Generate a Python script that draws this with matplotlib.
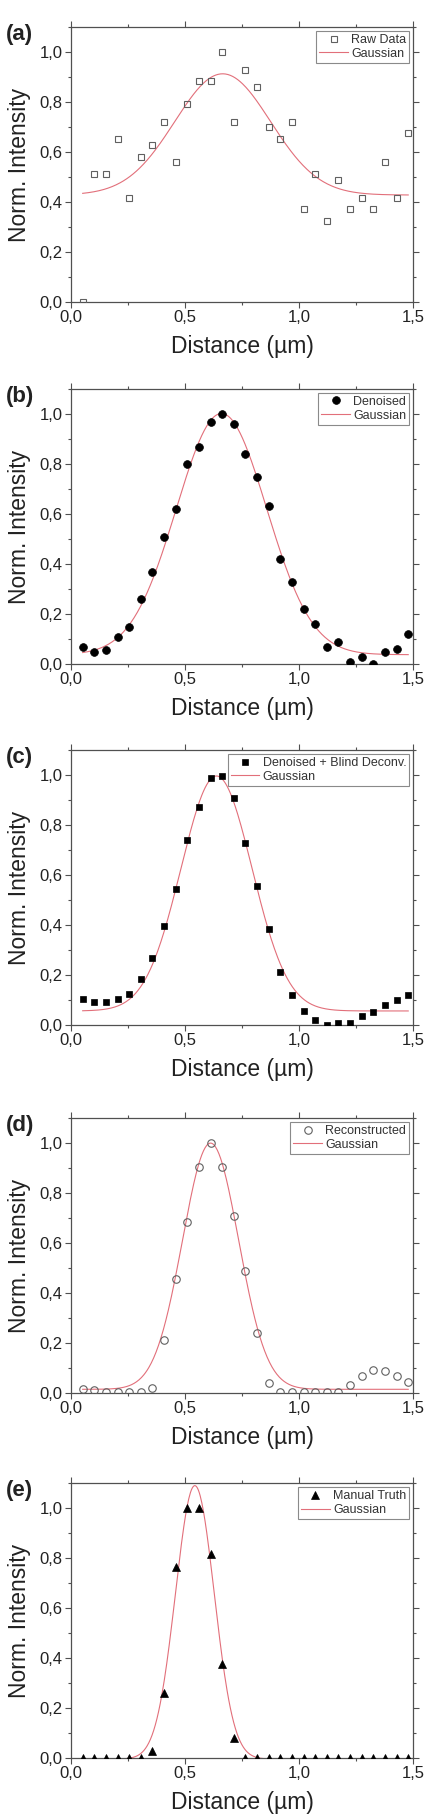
import numpy as np
import matplotlib
matplotlib.use('Agg')
import matplotlib.pyplot as plt
import matplotlib.ticker as mtick

plt.rcParams['font.family'] = ['Liberation Sans', 'DejaVu Sans']

# Posições dos pixels (µm)
distance = [0.051 * k for k in range(1, 30)]

raw_data = [0.0, 0.513, 0.513, 0.652, 0.418, 0.582, 0.628, 0.722, 0.559, 0.791,
            0.884, 0.884, 1.0, 0.722, 0.930, 0.861, 0.699, 0.652, 0.722, 0.373,
            0.513, 0.326, 0.489, 0.373, 0.418, 0.373, 0.559, 0.418, 0.675]
denoised = [0.067, 0.047, 0.057, 0.108, 0.148, 0.258, 0.369, 0.508, 0.618, 0.798,
            0.869, 0.969, 1.0, 0.959, 0.838, 0.749, 0.630, 0.418, 0.329, 0.219,
            0.159, 0.068, 0.088, 0.008, 0.029, 0.0, 0.048, 0.059, 0.119]
deconv = [0.103, 0.090, 0.090, 0.103, 0.125, 0.182, 0.269, 0.396, 0.542, 0.739,
          0.871, 0.990, 0.997, 0.906, 0.727, 0.556, 0.383, 0.212, 0.119, 0.055,
          0.019, 0.0, 0.009, 0.009, 0.035, 0.051, 0.079, 0.098, 0.119]
reconstructed = [0.017, 0.011, 0.004, 0.004, 0.004, 0.004, 0.020, 0.214, 0.455, 0.683,
                 0.905, 1.0, 0.905, 0.707, 0.490, 0.242, 0.040, 0.004, 0.004, 0.004,
                 0.004, 0.004, 0.004, 0.033, 0.067, 0.094, 0.090, 0.067, 0.044]
manual_truth = [0.0, 0.0, 0.0, 0.0, 0.0, 0.0, 0.029, 0.261, 0.764, 0.999,
                1.0, 0.815, 0.375, 0.080, 0.0, 0.0, 0.0, 0.0, 0.0, 0.0,
                0.0, 0.0, 0.0, 0.0, 0.0, 0.0, 0.0, 0.0, 0.0]

# Parâmetros do ajuste gaussiano: base, amplitude, centro, sigma
fit_base = [0.428, 0.037, 0.056, 0.015, -0.004]
fit_amp = [0.485, 0.965, 0.940, 0.985, 1.094]
fit_center = [0.665, 0.660, 0.638, 0.612, 0.543]
fit_sigma = [0.210, 0.198, 0.156, 0.123, 0.085]

panel_labels = ['(a)', '(b)', '(c)', '(d)', '(e)']
legend_names = ['Raw Data', 'Denoised', 'Denoised + Blind Deconv.', 'Reconstructed', 'Manual Truth']
series = [raw_data, denoised, deconv, reconstructed, manual_truth]

FRAME = '#505050'
TEXT = '#222222'
RED = '#e26f7a'

marker_styles = [
    dict(marker='s', ms=5.0, mfc='none', mec='#606060', mew=0.8),
    dict(marker='o', ms=5.6, mfc='black', mec='black', mew=0.5),
    dict(marker='s', ms=4.8, mfc='black', mec='black', mew=0.5),
    dict(marker='o', ms=5.4, mfc='none', mec='#606060', mew=0.8),
    dict(marker='^', ms=6.0, mfc='black', mec='black', mew=0.5),
]

# Posições dos eixos (fração da figura)
axes_bottoms = [0.8337, 0.6344, 0.4356, 0.2329, 0.0319]


def comma_fmt(val, pos):
    return '{:.1f}'.format(val).replace('.', ',')


fig = plt.figure(figsize=(4.28, 18.16), dpi=100)

for i in range(5):
    ax = fig.add_axes([0.166, axes_bottoms[i], 0.799, 0.1514])
    x_fit = np.linspace(distance[0], distance[-1], 400)
    y_fit = fit_base[i] + fit_amp[i] * np.exp(-(x_fit - fit_center[i]) ** 2 / (2 * fit_sigma[i] ** 2))

    ax.plot(distance, series[i], ls='none', label=legend_names[i], zorder=3, **marker_styles[i])
    ax.plot(x_fit, y_fit, color=RED, lw=0.8, label='Gaussian', zorder=2)

    ax.set_xlim(0, 1.5)
    ax.set_ylim(0, 1.1)
    ax.xaxis.set_major_locator(mtick.MultipleLocator(0.5))
    ax.xaxis.set_minor_locator(mtick.MultipleLocator(0.25))
    ax.yaxis.set_major_locator(mtick.FixedLocator([0, 0.2, 0.4, 0.6, 0.8, 1.0]))
    ax.yaxis.set_minor_locator(mtick.MultipleLocator(0.1))
    ax.xaxis.set_major_formatter(mtick.FuncFormatter(comma_fmt))
    ax.yaxis.set_major_formatter(mtick.FuncFormatter(comma_fmt))

    for spine in ax.spines.values():
        spine.set_color(FRAME)
        spine.set_linewidth(0.9)
    ax.tick_params(which='both', direction='out', top=True, right=True,
                   color=FRAME, width=0.8, labelcolor=TEXT, labelsize=12)
    ax.tick_params(which='major', length=4, pad=2)
    ax.tick_params(which='minor', length=2)

    ax.set_xlabel('Distance (µm)', fontsize=16.5, color=TEXT, labelpad=7)
    ax.set_ylabel('Norm. Intensity', fontsize=16.5, color=TEXT, labelpad=6)

    ax.text(-0.19, 1.01, panel_labels[i], transform=ax.transAxes, fontsize=16,
            fontweight='bold', color=TEXT, ha='left', va='top')

    leg = ax.legend(loc='upper right', fontsize=9, frameon=True, fancybox=False,
                    edgecolor='#8a8a8a', framealpha=1, borderpad=0.25,
                    labelspacing=0.15, handlelength=2.3, handletextpad=0.25,
                    borderaxespad=0.3, numpoints=1)
    leg.get_frame().set_linewidth(0.8)
    for t in leg.get_texts():
        t.set_color('#333333')

fig.savefig('out.png', dpi=100)
